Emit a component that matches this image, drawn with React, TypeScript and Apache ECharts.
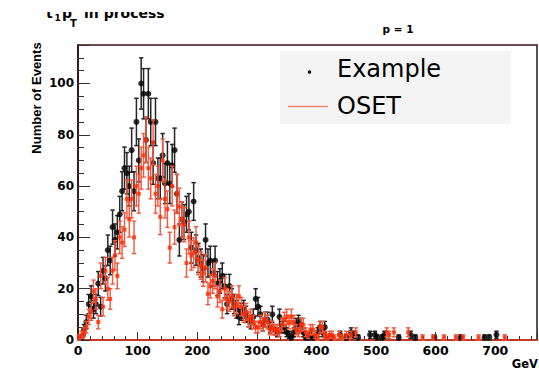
import React, { useEffect, useRef } from "react";
import * as echarts from "echarts";

// Example (black) histogram: bin centres (GeV) and counts
const blackX = [6, 10, 14, 18, 22, 26, 30, 34, 38, 42, 46, 50, 54, 58, 62, 66, 70, 74, 78, 82, 86, 90, 94, 98, 102, 106, 110, 114, 118, 122, 126, 130, 134, 138, 142, 146, 150, 154, 158, 162, 166, 170, 174, 178, 182, 186, 190, 194, 198, 202, 206, 210, 214, 218, 222, 226, 230, 234, 238, 242, 246, 250, 254, 258, 262, 266, 270, 274, 278, 282, 286, 290, 294, 298, 302, 306, 310, 314, 318, 322, 326, 330, 334, 338, 342, 346, 350, 354, 358, 362, 366, 370, 374, 378, 382, 386, 390, 394, 402, 406, 410, 414, 418, 426, 440, 450, 458, 462, 470, 490, 498, 502, 510, 514, 538, 558, 566, 598, 642, 682, 690, 702];
const blackY = [1, 4, 7, 14, 17, 12, 14, 22, 13, 27, 24, 35, 31, 44, 39, 42, 49, 58, 67, 65, 60, 74, 58, 85, 70, 100, 96, 78, 96, 85, 69, 85, 63, 63, 72, 61, 69, 61, 68, 74, 57, 39, 47, 46, 49, 50, 36, 54, 35, 32, 30, 28, 39, 30, 31, 26, 31, 22, 23, 25, 21, 14, 21, 16, 14, 12, 9, 11, 12, 10, 8, 7, 9, 16, 13, 10, 6, 8, 8, 5, 10, 4, 3, 9, 5, 5, 3, 2, 1, 3, 6, 7, 6, 3, 1, 1, 2, 1, 3, 5, 3, 5, 1, 1, 2, 1, 3, 2, 1, 2, 2, 1, 1, 2, 1, 2, 1, 1, 1, 1, 1, 2];

// OSET (red) histogram
const redX = [2, 6, 10, 14, 18, 22, 26, 30, 34, 38, 42, 46, 50, 54, 58, 62, 66, 70, 74, 78, 82, 86, 90, 94, 98, 102, 106, 110, 114, 118, 122, 126, 130, 134, 138, 142, 146, 150, 154, 158, 162, 166, 170, 174, 178, 182, 186, 190, 194, 198, 202, 206, 210, 214, 218, 222, 226, 230, 234, 238, 242, 246, 250, 254, 258, 262, 266, 270, 274, 278, 282, 286, 290, 294, 298, 302, 306, 310, 314, 318, 322, 326, 330, 334, 338, 342, 346, 350, 354, 358, 362, 366, 370, 374, 378, 382, 386, 390, 394, 398, 402, 406, 410, 414, 418, 422, 426, 430, 438, 442, 450, 458, 466, 518, 522, 530, 554, 578, 596, 614, 634, 646, 672, 716];
const redY = [1, 2, 3, 5, 9, 11, 19, 16, 7, 25, 13, 27, 20, 16, 27, 33, 25, 40, 38, 43, 55, 47, 55, 40, 60, 57, 67, 72, 78, 67, 63, 77, 57, 60, 48, 70, 55, 51, 36, 60, 44, 57, 52, 47, 45, 30, 40, 33, 34, 38, 31, 29, 26, 28, 18, 21, 23, 25, 17, 19, 12, 20, 16, 15, 17, 13, 14, 17, 13, 10, 11, 8, 9, 7, 5, 5, 7, 6, 8, 7, 4, 5, 4, 4, 3, 6, 8, 9, 7, 9, 7, 4, 3, 6, 6, 3, 2, 4, 4, 2, 1, 5, 5, 2, 1, 2, 2, 1, 2, 1, 2, 2, 3, 3, 2, 3, 3, 1, 1, 1, 1, 1, 1, 1];

const xTickStep = 100;
const yTickStep = 20;
const xMax = 770;
const yMax = 115;

const FONT = "DejaVu Sans";

function errData(xs: number[], ys: number[]) {
  return xs.map((x, i) => [x, ys[i], Math.sqrt(ys[i])]);
}

function errorRenderer(color: string, lw: number, cap: number) {
  return (params: any, api: any) => {
    const x = api.value(0);
    const y = api.value(1);
    const e = api.value(2);
    const top = api.coord([x, y + e]);
    const bot = api.coord([x, Math.max(0, y - e)]);
    const style = { stroke: color, lineWidth: lw };
    return {
      type: "group",
      children: [
        { type: "line", shape: { x1: top[0], y1: top[1], x2: bot[0], y2: bot[1] }, style },
        { type: "line", shape: { x1: top[0] - cap, y1: top[1], x2: top[0] + cap, y2: top[1] }, style },
        { type: "line", shape: { x1: bot[0] - cap, y1: bot[1], x2: bot[0] + cap, y2: bot[1] }, style },
      ],
    };
  };
}

export default function App() {
  const ref = useRef<HTMLDivElement>(null);
  useEffect(() => {
    if (!ref.current) return;
    const chart = echarts.init(ref.current, null, { renderer: "svg" });
    const bold = { fontFamily: FONT, fontWeight: "bold", color: "#000" };
    chart.setOption({
      animation: false,
      backgroundColor: "#fff",
      grid: { left: 78, right: 2, top: 45, bottom: 32, show: true, borderColor: "#3a1212", borderWidth: 1.5, backgroundColor: "transparent" },
      xAxis: {
        type: "value",
        min: 0,
        max: xMax,
        interval: xTickStep,
        axisLine: { lineStyle: { color: "#e8321e", width: 1.5 } },
        axisTick: { inside: true, length: 8, lineStyle: { color: "#333" } },
        minorTick: { show: true, splitNumber: 5, length: 4, lineStyle: { color: "#333" } },
        splitLine: { show: false },
        axisLabel: { ...bold, fontSize: 12.5, margin: 4, showMaxLabel: false },
      },
      yAxis: {
        type: "value",
        min: 0,
        max: yMax,
        interval: yTickStep,
        axisLine: { lineStyle: { color: "#2a0a0a", width: 1.5 } },
        axisTick: { inside: true, length: 12, lineStyle: { color: "#333" } },
        minorTick: { show: true, splitNumber: 4, length: 6, lineStyle: { color: "#333" } },
        splitLine: { show: false },
        axisLabel: { ...bold, fontSize: 12, margin: 4, showMaxLabel: false },
      },
      series: [
        { type: "custom", name: "ExampleErr", data: errData(blackX, blackY), renderItem: errorRenderer("#262626", 1.5, 2.2), encode: { x: 0, y: 1 }, z: 2 },
        { type: "scatter", name: "Example", data: blackX.map((x, i) => [x, blackY[i]]), symbol: "circle", symbolSize: 6, itemStyle: { color: "#000" }, z: 3 },
        { type: "custom", name: "OSETErr", data: errData(redX, redY), renderItem: errorRenderer("#f5553a", 1.4, 2.2), encode: { x: 0, y: 1 }, z: 4 },
        { type: "scatter", name: "OSET", data: redX.map((x, i) => [x, redY[i]]), symbol: "rect", symbolSize: 4, itemStyle: { color: "#ff2a00" }, z: 5 },
      ],
      graphic: [
        { type: "text", x: 46, y: 12.5, style: { text: "t", font: `bold 14px ${FONT}`, fill: "#000", textVerticalAlign: "middle" }, z: 10 },
        { type: "text", x: 54.5, y: 18, style: { text: "1", font: `bold 9px ${FONT}`, fill: "#000", textVerticalAlign: "middle" }, z: 10 },
        { type: "text", x: 62, y: 12.5, style: { text: "p", font: `bold 14px ${FONT}`, fill: "#000", textVerticalAlign: "middle" }, z: 10 },
        { type: "text", x: 70, y: 23.5, style: { text: "T", font: `bold 10px ${FONT}`, fill: "#000", textVerticalAlign: "middle" }, z: 10 },
        { type: "text", x: 84, y: 12.5, style: { text: "in process", font: `bold 14px ${FONT}`, fill: "#000", textVerticalAlign: "middle" }, z: 10 },
        { type: "rect", shape: { x: 0, y: 0, width: 539, height: 12 }, style: { fill: "#fff" }, z: 11 },
        { type: "text", x: 398, y: 29, style: { text: "p = 1", font: `bold 10.5px ${FONT}`, fill: "#000", textAlign: "center", textVerticalAlign: "middle" }, z: 10 },
        { type: "text", x: 36, y: 98, rotation: Math.PI / 2, style: { text: "Number of Events", font: "bold 13px 'Liberation Sans'", fill: "#000", textAlign: "center", textVerticalAlign: "middle" }, z: 10 },
        { type: "text", x: 538, y: 364, style: { text: "GeV", font: `bold 11.5px ${FONT}`, fill: "#000", textAlign: "right", textVerticalAlign: "middle" }, z: 10 },
        { type: "rect", shape: { x: 280, y: 51, width: 231, height: 73 }, style: { fill: "#f4f4f4" }, z: 10 },
        { type: "circle", shape: { cx: 309.5, cy: 72, r: 1.8 }, style: { fill: "#000" }, z: 11 },
        { type: "text", x: 337, y: 69, style: { text: "Example", font: `24px ${FONT}`, fill: "#000", textVerticalAlign: "middle" }, z: 11 },
        { type: "line", shape: { x1: 288, y1: 106.5, x2: 328, y2: 106.5 }, style: { stroke: "#ff8470", lineWidth: 1.3 }, z: 11 },
        { type: "text", x: 337, y: 106, style: { text: "OSET", font: `24px ${FONT}`, fill: "#000", textVerticalAlign: "middle" }, z: 11 },
      ],
    });
    return () => chart.dispose();
  }, []);
  return <div ref={ref} style={{ position: "fixed", left: 0, top: 0, width: 539, height: 372 }} />;
}
